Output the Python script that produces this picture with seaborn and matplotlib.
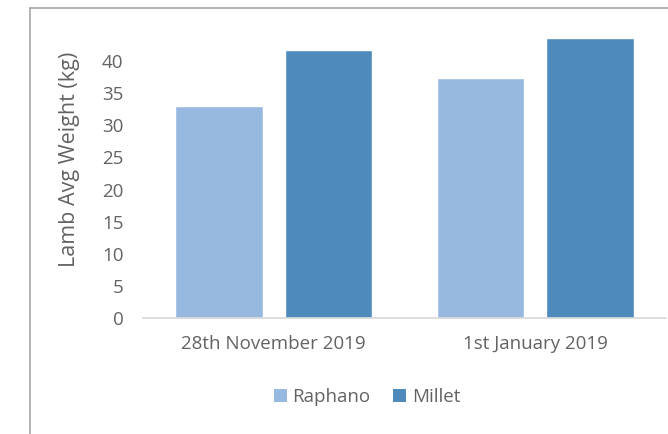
import matplotlib
matplotlib.use("Agg")
import matplotlib.pyplot as plt
import seaborn as sns
import pandas as pd
from matplotlib.lines import Line2D
from matplotlib.patches import Patch

dates = ["28th November 2019", "1st January 2019"]
series = ["Raphano", "Millet"]
raphano = [33.0, 37.4]
millet = [41.8, 43.6]
yticks = [0, 5, 10, 15, 20, 25, 30, 35, 40]

df = pd.DataFrame({
    "date": dates * 2,
    "series": [series[0]] * 2 + [series[1]] * 2,
    "weight": raphano + millet,
})

sns.set_theme(style="white")
plt.rcParams["font.family"] = ["Open Sans", "DejaVu Sans"]
TXT = "#636363"
colors = {"Raphano": "#97B9E0", "Millet": "#4F8ABD"}

fig = plt.figure(figsize=(6.68, 4.34), dpi=100)
ax = fig.add_axes([143 / 668, 1 - 318 / 434, (666 - 143) / 668, (318 - 29) / 434])

sns.barplot(data=df, x="date", y="weight", hue="series", order=dates,
            hue_order=series, palette=colors, width=0.835, gap=0.2,
            ax=ax, legend=False, saturation=1)

ax.set_xlim(-0.5, 1.5)
ax.set_ylim(0, 45)
ax.set_yticks(yticks)
ax.set_yticklabels([str(v) for v in yticks])
ax.tick_params(axis="both", length=0, labelsize=13.5, labelcolor=TXT)
ax.tick_params(axis="y", pad=14)
ax.tick_params(axis="x", pad=12)
ax.set_xlabel("")
ax.set_ylabel("Lamb Avg Weight (kg)", fontsize=15.5, color=TXT)
ax.yaxis.set_label_coords((80 - 143) / 523, (318 - 159) / 289)
for s in ["top", "right", "left"]:
    ax.spines[s].set_visible(False)
ax.spines["bottom"].set_color("#D9D9D9")
ax.spines["bottom"].set_linewidth(1.2)

# chart-area frame (left and top edges visible)
fig.add_artist(Line2D([29.5 / 668, 29.5 / 668], [0, 1 - 8 / 434],
                      transform=fig.transFigure, color="#A6A6A6", lw=1.2))
fig.add_artist(Line2D([29.5 / 668, 1], [1 - 8 / 434, 1 - 8 / 434],
                      transform=fig.transFigure, color="#A6A6A6", lw=1.2))

handles = [Patch(facecolor=colors[s], edgecolor="none", label=s) for s in series]
fig.legend(handles=handles, loc="center", bbox_to_anchor=(367 / 668, 1 - 397 / 434),
           ncol=2, frameon=False, fontsize=13.5, labelcolor=TXT,
           handlelength=0.7, handleheight=0.7, handletextpad=0.3, columnspacing=1.2)

fig.savefig("out.png", dpi=100)
